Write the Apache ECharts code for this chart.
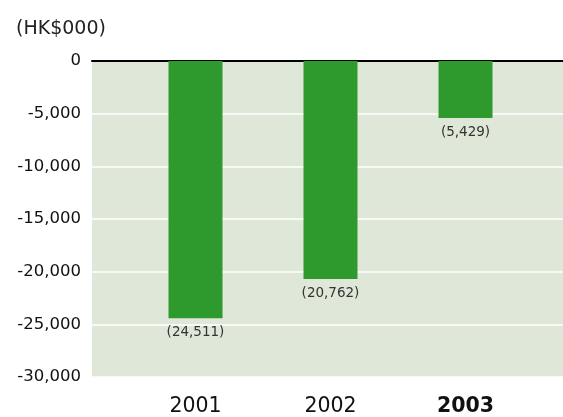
<!DOCTYPE html>
<html>
<head>
<meta charset="utf-8">
<script src="https://cdn.jsdelivr.net/npm/echarts@6/dist/echarts.min.js"></script>
<style>html,body{margin:0;padding:0;background:#fff;}#c{width:563px;height:417px;}</style>
</head>
<body>
<div id="c"></div>
<script>
const categories = ['2001', '2002', '2003'];
const values = [-24511, -20762, -5429];
const labelsText = ['(24,511)', '(20,762)', '(5,429)'];
const yTicks = { min: -30000, max: 0, interval: 5000 };
const unitTitle = '(HK$000)';

const chart = echarts.init(document.getElementById('c'), null, { renderer: 'canvas' });
const font = 'DejaVu Sans, Verdana, sans-serif';
const fmt = v => v === 0 ? '0' : '-' + Math.abs(v).toLocaleString('en-US');

chart.setOption({
  animation: false,
  title: { text: unitTitle, left: 11, top: 15, textStyle: { fontFamily: font, fontSize: 19, fontWeight: 'normal', color: '#222' } },
  grid: [
    { left: 92, right: 0, top: 61, bottom: 40, show: true, backgroundColor: '#dfe8d8', borderWidth: 0 },
    { left: 128, right: 30, top: 61, bottom: 40 }
  ],
  xAxis: [
    { gridIndex: 0, type: 'value', min: 0, max: 1, position: 'top',
      axisLine: { show: true, lineStyle: { color: '#000', width: 2 } },
      axisTick: { show: false }, axisLabel: { show: false }, splitLine: { show: false } },
    { gridIndex: 1, type: 'category', data: categories, position: 'bottom',
      axisLine: { show: false }, axisTick: { show: false },
      axisLabel: { margin: 20, fontFamily: font, fontSize: 20.5, color: '#111',
        formatter: v => v === '2003' ? '{b|' + v + '}' : v,
        rich: { b: { fontWeight: 'bold', fontFamily: font, fontSize: 20.5, color: '#111' } } } }
  ],
  yAxis: [
    { gridIndex: 0, type: 'value', min: yTicks.min, max: yTicks.max, interval: yTicks.interval,
      axisLine: { show: false }, axisTick: { show: false },
      axisLabel: { margin: 11, fontFamily: font, fontSize: 16.5, color: '#111', formatter: fmt },
      splitLine: { show: true, lineStyle: { color: '#ffffff', width: 1.5 } } },
    { gridIndex: 1, type: 'value', min: yTicks.min, max: yTicks.max, interval: yTicks.interval,
      show: false, splitLine: { show: false } }
  ],
  series: [{
    type: 'bar', xAxisIndex: 1, yAxisIndex: 1, data: values, barWidth: 54,
    itemStyle: { color: '#2e9a2e' },
    label: { show: true, position: 'bottom', distance: 7, fontFamily: font, fontSize: 13.5, color: '#333',
      formatter: p => labelsText[p.dataIndex] },
    z: 2
  }]
});
</script>
</body>
</html>
